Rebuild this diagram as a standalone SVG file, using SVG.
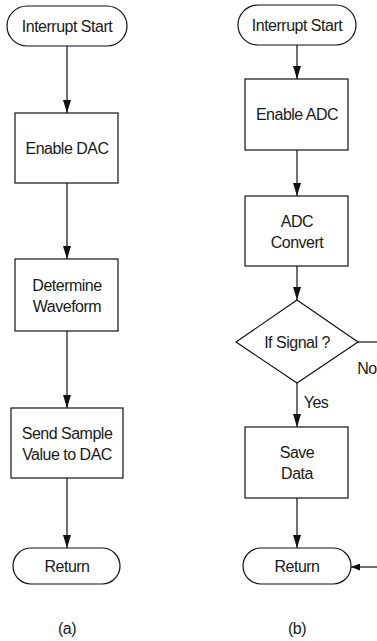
<svg xmlns="http://www.w3.org/2000/svg" width="377" height="641" viewBox="0 0 377 641">
  <style>
    .shape { fill: #fff; stroke: #111; stroke-width: 1.2; }
    .conn { fill: none; stroke: #111; stroke-width: 1.2; }
    text { font-family: "Liberation Sans", Arial, sans-serif; font-size: 16px; letter-spacing: -0.5px; fill: #1a1a1a; text-anchor: middle; dominant-baseline: central; }
  </style>
  <defs>
    <marker id="arrow" viewBox="0 0 13 8" refX="13" refY="4" markerWidth="13" markerHeight="8" markerUnits="userSpaceOnUse" orient="auto">
      <path d="M0,0 L13,4 L0,8 z" fill="#111"/>
    </marker>
    <marker id="arrowSmall" viewBox="0 0 9 7" refX="9" refY="3.5" markerWidth="9" markerHeight="7" markerUnits="userSpaceOnUse" orient="auto">
      <path d="M0,0 L9,3.5 L0,7 z" fill="#111"/>
    </marker>
  </defs>

  <!-- Connectors -->
  <g id="connectors">
    <!-- flow (a) -->
    <line class="conn" x1="67" y1="46" x2="67" y2="113" marker-end="url(#arrow)"/>
    <line class="conn" x1="67" y1="183" x2="67" y2="259" marker-end="url(#arrow)"/>
    <line class="conn" x1="67" y1="331" x2="67" y2="408" marker-end="url(#arrow)"/>
    <line class="conn" x1="67" y1="478" x2="67" y2="548" marker-end="url(#arrow)"/>
    <!-- flow (b) -->
    <line class="conn" x1="297" y1="45" x2="297" y2="79" marker-end="url(#arrow)"/>
    <line class="conn" x1="297" y1="150" x2="297" y2="196" marker-end="url(#arrow)"/>
    <line class="conn" x1="297" y1="266" x2="297" y2="300" marker-end="url(#arrow)"/>
    <line class="conn" x1="297" y1="383" x2="297" y2="427" marker-end="url(#arrow)"/>
    <line class="conn" x1="297" y1="498" x2="297" y2="548" marker-end="url(#arrow)"/>
    <line class="conn" x1="358" y1="342" x2="377" y2="342"/>
    <line class="conn" x1="377" y1="567" x2="351" y2="567" marker-end="url(#arrowSmall)"/>
    <text x="367" y="368">No</text>
    <text x="316" y="402">Yes</text>
  </g>

  <!-- Flow (a) nodes -->
  <g id="a-start">
    <rect class="shape" x="7" y="6" width="120" height="40" rx="20"/>
    <text x="67" y="26">Interrupt Start</text>
  </g>
  <g id="a-enable-dac">
    <rect class="shape" x="15" y="113" width="103" height="70"/>
    <text x="67" y="148">Enable DAC</text>
  </g>
  <g id="a-determine">
    <rect class="shape" x="15" y="259" width="103" height="72"/>
    <text x="67" y="285">Determine</text>
    <text x="67" y="306">Waveform</text>
  </g>
  <g id="a-send">
    <rect class="shape" x="11" y="408" width="112" height="70"/>
    <text x="67" y="433">Send Sample</text>
    <text x="67" y="454">Value to DAC</text>
  </g>
  <g id="a-return">
    <rect class="shape" x="13" y="548" width="107" height="36" rx="18"/>
    <text x="67" y="566">Return</text>
  </g>
  <text x="67" y="628">(a)</text>

  <!-- Flow (b) nodes -->
  <g id="b-start">
    <rect class="shape" x="238" y="5" width="118" height="40" rx="20"/>
    <text x="297" y="25">Interrupt Start</text>
  </g>
  <g id="b-enable-adc">
    <rect class="shape" x="245" y="79" width="103" height="71"/>
    <text x="297" y="114">Enable ADC</text>
  </g>
  <g id="b-convert">
    <rect class="shape" x="245" y="196" width="103" height="70"/>
    <text x="297" y="221">ADC</text>
    <text x="297" y="242">Convert</text>
  </g>
  <g id="b-decision">
    <polygon class="shape" points="297,300 358,342 297,383 236,342"/>
    <text x="297" y="342">If Signal ?</text>
  </g>
  <g id="b-save">
    <rect class="shape" x="245" y="427" width="103" height="71"/>
    <text x="297" y="452">Save</text>
    <text x="297" y="473">Data</text>
  </g>
  <g id="b-return">
    <rect class="shape" x="243" y="548" width="108" height="36" rx="18"/>
    <text x="297" y="566">Return</text>
  </g>
  <text x="297" y="628">(b)</text>
</svg>
